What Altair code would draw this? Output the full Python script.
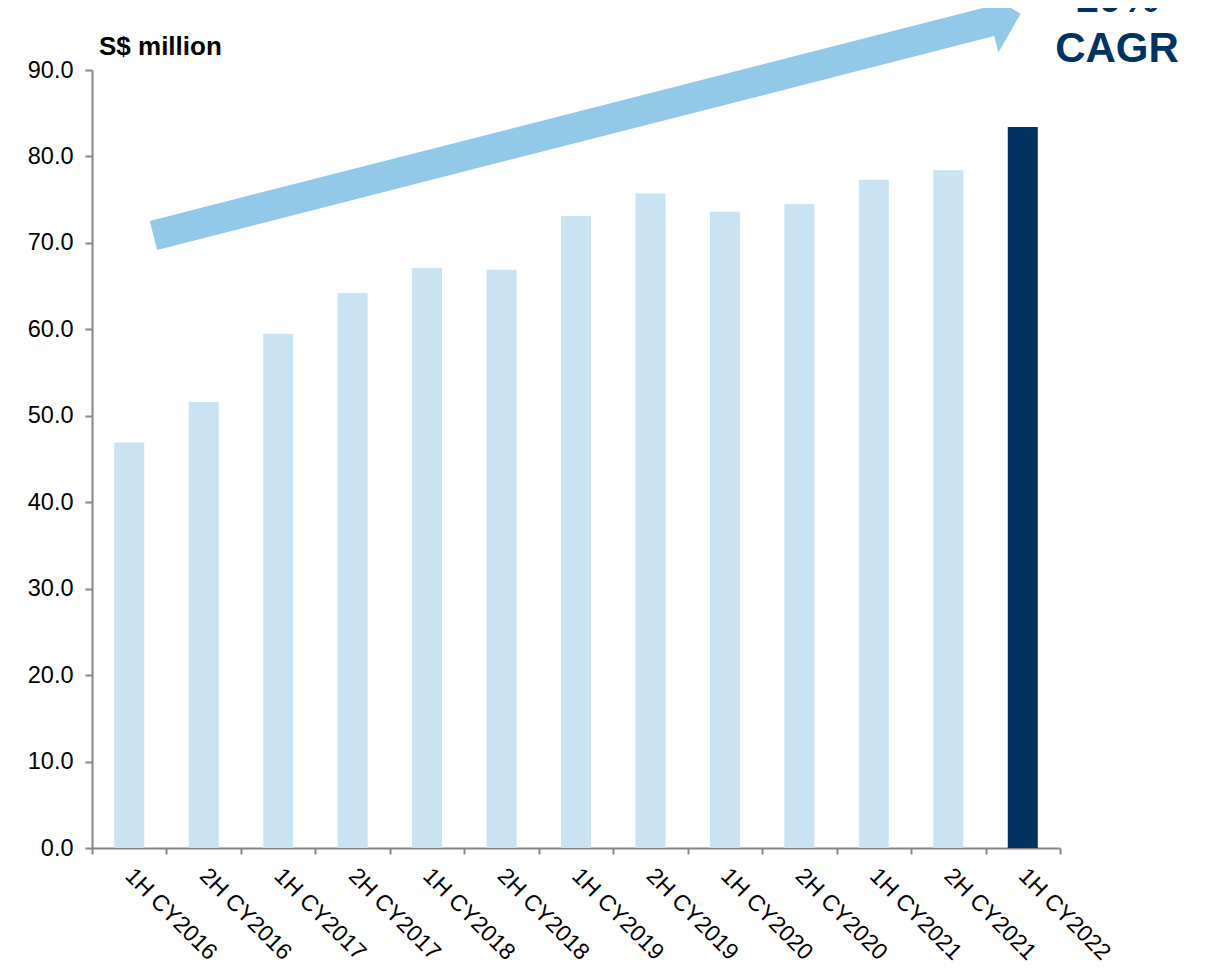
import altair as alt
import pandas as pd

periods = ["1H CY2016", "2H CY2016", "1H CY2017", "2H CY2017", "1H CY2018",
           "2H CY2018", "1H CY2019", "2H CY2019", "1H CY2020", "2H CY2020",
           "1H CY2021", "2H CY2021", "1H CY2022"]
revenue = [46.9, 51.6, 59.5, 64.2, 67.1, 66.9, 73.1, 75.7, 73.6, 74.5, 77.3, 78.4, 83.4]
series = ["past"] * 12 + ["latest"]
y_ticks = [0, 10, 20, 30, 40, 50, 60, 70, 80, 90]

df = pd.DataFrame({"period": periods, "revenue": revenue, "series": series})
one = pd.DataFrame({"k": [0]})

FONT = "Liberation Sans"
GREY = "#868686"
NAVY = "#00335F"
LIGHT = "#C9E3F2"
ARROW = "#92C8E8"

bars = alt.Chart(df).mark_bar(width=alt.RelativeBandSize(0.403)).encode(
    x=alt.X("period:N", sort=periods,
            scale=alt.Scale(paddingInner=0, paddingOuter=0),
            axis=alt.Axis(title=None, labelAngle=45, labelAlign="left", labelBaseline="top",
                          labelFont=FONT, labelFontSize=23, labelColor="black",
                          labelPadding=10, labelOffset=7, tickBand="extent", tickSize=6,
                          tickColor=GREY, tickWidth=2, domainColor=GREY, domainWidth=2)),
    y=alt.Y("revenue:Q", scale=alt.Scale(domain=[0, 90], nice=False),
            axis=alt.Axis(title=None, values=y_ticks, format=".1f", labelFont=FONT,
                          labelFontSize=23.5, labelColor="black", labelPadding=12,
                          tickSize=7, tickColor=GREY, tickWidth=2, domainColor=GREY,
                          domainWidth=2, grid=False)),
    color=alt.Color("series:N", scale=alt.Scale(domain=["past", "latest"], range=[LIGHT, NAVY]),
                    legend=None),
)

arrow_path = ("M -1 -0.0335 L 0.9307 -0.0335 L 0.9307 -0.0715 L 1 0 "
              "L 0.9307 0.0715 L 0.9307 0.0335 L -1 0.0335 Z")
arrow = alt.Chart(one).mark_point(shape=arrow_path, size=801025, angle=345.66, filled=True,
                                  fill=ARROW, opacity=1, strokeWidth=0).encode(
    x=alt.value(495), y=alt.value(54.7))

txt_pct = alt.Chart(one).mark_text(text="10%", font=FONT, fontSize=42, fontWeight="bold",
                                   color=NAVY, align="center", baseline="alphabetic").encode(
    x=alt.value(1025), y=alt.value(-58))
txt_cagr = alt.Chart(one).mark_text(text="CAGR", font=FONT, fontSize=42, fontWeight="bold",
                                    color=NAVY, align="center", baseline="alphabetic").encode(
    x=alt.value(1025), y=alt.value(-8))
unit = alt.Chart(one).mark_text(text="S$ million", font=FONT, fontSize=26, fontWeight="bold",
                                color="black", align="left", baseline="alphabetic").encode(
    x=alt.value(7), y=alt.value(-15))

chart = alt.layer(bars, arrow, txt_pct, txt_cagr, unit).properties(
    width=968, height=778,
    autosize=alt.AutoSizeParams(type="none"),
    padding={"left": 84, "top": 62, "right": 141, "bottom": 120},
).configure_view(stroke=None)

chart.save("out.html", embed_options={"renderer": "svg", "actions": False})
